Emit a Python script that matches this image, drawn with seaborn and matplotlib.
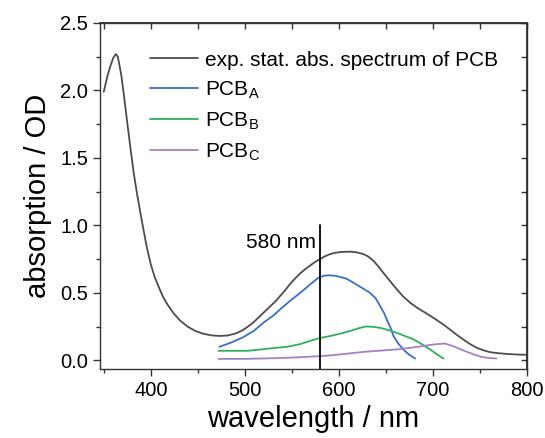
import numpy as np
import pandas as pd
import seaborn as sns
import matplotlib.pyplot as plt
from matplotlib.ticker import MultipleLocator

# experimental static absorption spectrum of PCB
exp_nm = [350, 352, 354, 357, 360, 362.7, 365, 368.7, 371.5, 375, 378.6, 382, 385.7, 389,
          392.7, 396, 400, 404, 408, 413, 418, 424, 431, 439, 447, 456, 465, 474, 482, 490,
          497, 503, 509, 515, 521, 527, 533, 538, 543, 548, 554, 559, 565, 570, 575, 580,
          585, 590, 596, 603, 612, 619, 626, 631, 637, 642, 647, 654, 661, 668, 676, 683,
          690, 697, 704, 711, 718, 725, 732, 739, 746, 753, 760, 768, 778, 788, 800]
exp_od = [1.99, 2.05, 2.11, 2.18, 2.24, 2.27, 2.25, 2.11, 1.96, 1.76, 1.56, 1.38, 1.22, 1.09,
          0.95, 0.83, 0.71, 0.62, 0.55, 0.47, 0.41, 0.35, 0.295, 0.25, 0.218, 0.196, 0.184,
          0.18, 0.184, 0.198, 0.22, 0.248, 0.28, 0.32, 0.36, 0.40, 0.44, 0.48, 0.52, 0.565,
          0.61, 0.645, 0.68, 0.705, 0.73, 0.75, 0.77, 0.785, 0.797, 0.803, 0.805, 0.8, 0.787,
          0.77, 0.735, 0.695, 0.65, 0.59, 0.53, 0.475, 0.425, 0.39, 0.36, 0.33, 0.298,
          0.265, 0.228, 0.19, 0.155, 0.122, 0.094, 0.075, 0.061, 0.053, 0.047, 0.043, 0.04]

# PCB_A
a_nm = [473, 485, 498, 510, 520, 530, 538, 548, 559, 569, 578, 584, 590, 597, 608, 619,
        626, 633, 639, 644, 648, 651, 655, 658, 663, 668.5, 674, 681]
a_od = [0.10, 0.13, 0.17, 0.22, 0.28, 0.33, 0.38, 0.44, 0.50, 0.56, 0.61, 0.627, 0.63, 0.625,
        0.605, 0.56, 0.53, 0.50, 0.46, 0.40, 0.35, 0.30, 0.24, 0.18, 0.125, 0.08, 0.045,
        0.013]

# PCB_B
b_nm = [472, 490, 503, 517, 530, 545, 559, 570, 580, 591, 602, 612, 620, 628, 636, 644,
        652, 661, 670, 679, 688, 697, 704, 711]
b_od = [0.07, 0.07, 0.07, 0.08, 0.09, 0.10, 0.12, 0.145, 0.165, 0.18, 0.198, 0.217, 0.235,
        0.25, 0.248, 0.24, 0.225, 0.205, 0.18, 0.156, 0.12, 0.08, 0.045, 0.013]

# PCB_C
c_nm = [472, 500, 530, 551, 565, 580, 591, 608, 626, 645, 661, 676, 690, 702, 712.6, 719,
        725, 734, 743, 751, 759, 767.5]
c_od = [0.01, 0.01, 0.015, 0.02, 0.025, 0.03, 0.036, 0.048, 0.062, 0.072, 0.08, 0.092,
        0.106, 0.118, 0.124, 0.11, 0.094, 0.068, 0.044, 0.026, 0.017, 0.013]

labels = ['exp. stat. abs. spectrum of PCB', r'PCB$_\mathrm{A}$', r'PCB$_\mathrm{B}$',
          r'PCB$_\mathrm{C}$']
colors = ['#4d4d4d', '#3b6fc5', '#2fb15c', '#a67fc6']
marker_nm = 580

frames = []
for lab, x, y in zip(labels, [exp_nm, a_nm, b_nm, c_nm], [exp_od, a_od, b_od, c_od]):
    frames.append(pd.DataFrame({'wavelength': x, 'od': y, 'series': lab}))
df = pd.concat(frames, ignore_index=True)

sns.set_theme(style="ticks")
plt.rcParams['font.family'] = ['Liberation Sans', 'DejaVu Sans']
plt.rcParams['mathtext.fontset'] = 'custom'
plt.rcParams['mathtext.rm'] = 'Liberation Sans'
plt.rcParams['text.color'] = 'black'
plt.rcParams['axes.labelcolor'] = 'black'
plt.rcParams['xtick.color'] = 'black'
plt.rcParams['ytick.color'] = 'black'

fig = plt.figure(figsize=(5.45, 4.38), dpi=100)
ax = fig.add_axes([0.1835, 0.1575, 0.7835, 0.79])

sns.lineplot(data=df, x='wavelength', y='od', hue='series', palette=colors,
             hue_order=labels, sort=False, estimator=None, linewidth=1.3, ax=ax)

ax.axvline(marker_nm, ymax=(1.0 + 0.065) / (2.5 + 0.065), color='black', linewidth=1.3)
ax.text(marker_nm - 4, 0.87, '580 nm', ha='right', va='center', fontsize=15, color='black')

ax.set_xlim(346, 800)
ax.set_ylim(-0.065, 2.5)
ax.xaxis.set_major_locator(MultipleLocator(100))
ax.xaxis.set_minor_locator(MultipleLocator(50))
ax.yaxis.set_major_locator(MultipleLocator(0.5))
ax.yaxis.set_minor_locator(MultipleLocator(0.25))
ax.yaxis.set_major_formatter(plt.FuncFormatter(lambda v, p: f'{v:.1f}'))
ax.tick_params(which='major', direction='out', length=5, width=1, labelsize=14.5,
               color='#333333', labelcolor='black')
ax.tick_params(which='minor', direction='out', length=3, width=1, color='#333333')

for s in ax.spines.values():
    s.set_color('#333333')
    s.set_linewidth(1.0)

top = ax.secondary_xaxis('top')
top.xaxis.set_major_locator(MultipleLocator(50))
top.tick_params(direction='in', length=4, width=1, labeltop=False, color='#333333')
right = ax.secondary_yaxis('right')
right.yaxis.set_major_locator(MultipleLocator(0.25))
right.tick_params(direction='in', length=4, width=1, labelright=False, color='#333333')

ax.set_xlabel('wavelength / nm', fontsize=21, labelpad=4)
ax.set_ylabel('absorption / OD', fontsize=21, labelpad=6)

handles, labs = ax.get_legend_handles_labels()
ax.legend(handles, labs, loc='upper left', bbox_to_anchor=(0.118, 0.92), frameon=False,
          fontsize=15, handlelength=2.3, handletextpad=0.3, labelspacing=0.45,
          borderpad=0, borderaxespad=0)

plt.savefig('out.png', dpi=100)
